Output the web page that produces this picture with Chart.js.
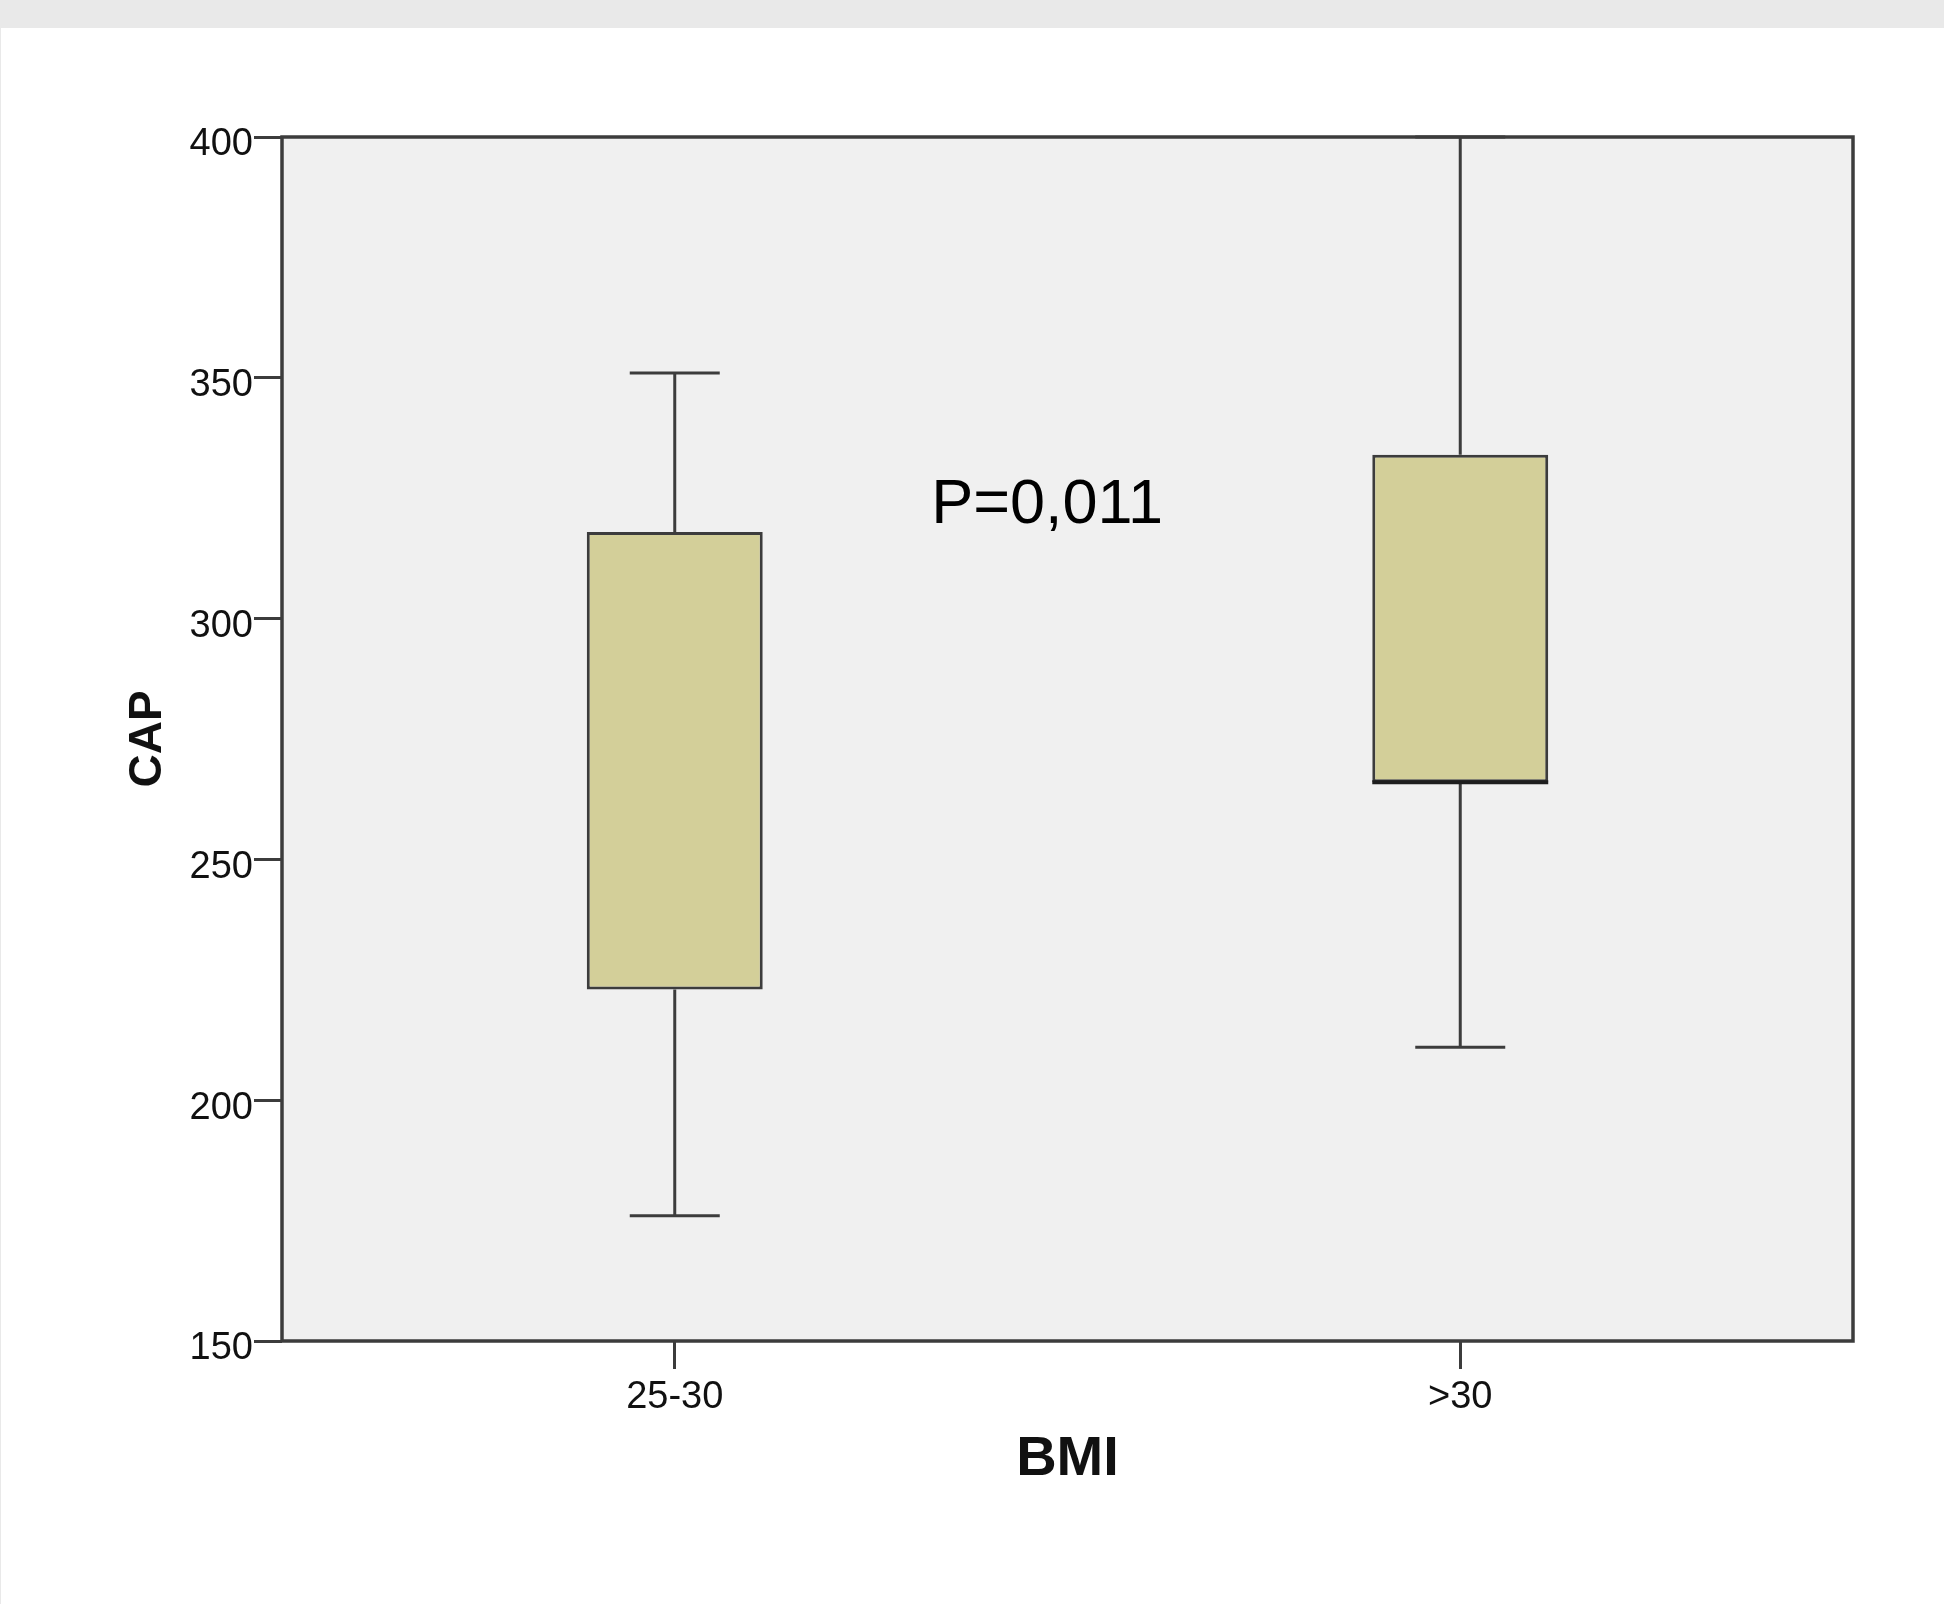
<!DOCTYPE html>
<html>
<head>
<meta charset="utf-8">
<script src="https://cdn.jsdelivr.net/npm/chart.js@4"></script>
<style>
  html, body { margin: 0; padding: 0; background: #e9e9e9; }
  #wrap { position: absolute; left: 1px; top: 28px; width: 1943px; height: 1576px; background: #ffffff; }
</style>
</head>
<body>
<div id="wrap"><canvas id="capGraph"></canvas></div>
<script>
// BMI groups vs CAP (box plot)
var bmiLabels = ["25-30", ">30"];
var whiskerLow = [176, 211];
var quartile1 = [223, 266];
var quartile3 = [318, 334];
var whiskerHigh = [351, 400];
var medians = [null, 266];
var yTicks = [150, 200, 250, 300, 350, 400];

var boxData = [];
for (var i = 0; i < bmiLabels.length; i++) {
    boxData.push([quartile1[i], quartile3[i]]);
}

var lineColor = "#3c3c3c";

// plot background + frame
var framePlugin = {
    id: 'frame',
    beforeDraw: function(chart) {
        var a = chart.chartArea, ctx = chart.ctx;
        ctx.save();
        ctx.fillStyle = "#f0f0f0";
        ctx.fillRect(a.left, a.top, a.right - a.left, a.bottom - a.top);
        ctx.restore();
    },
    afterDraw: function(chart) {
        var a = chart.chartArea, ctx = chart.ctx;
        ctx.save();
        ctx.strokeStyle = lineColor;
        ctx.lineWidth = 3.5;
        ctx.strokeRect(a.left, a.top, a.right - a.left, a.bottom - a.top);
        ctx.restore();
    }
};

// whiskers, caps and median drawn through the scales
var whiskerPlugin = {
    id: 'whiskers',
    beforeDatasetsDraw: function(chart) {
        var x = chart.scales.x, y = chart.scales.y, ctx = chart.ctx;
        ctx.save();
        ctx.strokeStyle = lineColor;
        ctx.lineWidth = 3;
        for (var i = 0; i < bmiLabels.length; i++) {
            var px = x.getPixelForValue(i);
            var capHalf = 45;
            ctx.beginPath();
            ctx.moveTo(px, y.getPixelForValue(whiskerHigh[i]));
            ctx.lineTo(px, y.getPixelForValue(quartile3[i]));
            ctx.moveTo(px, y.getPixelForValue(quartile1[i]));
            ctx.lineTo(px, y.getPixelForValue(whiskerLow[i]));
            ctx.moveTo(px - capHalf, y.getPixelForValue(whiskerHigh[i]));
            ctx.lineTo(px + capHalf, y.getPixelForValue(whiskerHigh[i]));
            ctx.moveTo(px - capHalf, y.getPixelForValue(whiskerLow[i]));
            ctx.lineTo(px + capHalf, y.getPixelForValue(whiskerLow[i]));
            ctx.stroke();
        }
        ctx.restore();
    },
    afterDatasetsDraw: function(chart) {
        var x = chart.scales.x, y = chart.scales.y, ctx = chart.ctx;
        var meta = chart.getDatasetMeta(0);
        ctx.save();
        ctx.strokeStyle = "#1e1e1e";
        ctx.lineWidth = 4;
        for (var i = 0; i < bmiLabels.length; i++) {
            if (medians[i] === null) continue;
            var bar = meta.data[i];
            var py = y.getPixelForValue(medians[i]);
            ctx.beginPath();
            ctx.moveTo(bar.x - bar.width / 2, py);
            ctx.lineTo(bar.x + bar.width / 2, py);
            ctx.stroke();
        }
        // p-value annotation
        ctx.fillStyle = "#000";
        ctx.font = "63px Arial, 'Liberation Sans', sans-serif";
        ctx.textAlign = "center";
        ctx.textBaseline = "middle";
        ctx.fillText("P=0,011", x.getPixelForValue(0.474), y.getPixelForValue(323.4));
        ctx.restore();
    }
};

var capConfig = {
    type: 'bar',
    data: {
        labels: bmiLabels,
        datasets: [{
            data: boxData,
            backgroundColor: "#d3cf99",
            borderColor: lineColor,
            borderWidth: 3,
            borderSkipped: false,
            barPercentage: 0.224,
            categoryPercentage: 1.0
        }]
    },
    options: {
        responsive: true,
        maintainAspectRatio: false,
        animation: false,
        layout: {
            padding: { top: 109, right: 91, bottom: 0, left: 0 }
        },
        plugins: {
            legend: { display: false },
            tooltip: { enabled: false }
        },
        scales: {
            x: {
                afterFit: function(scale) { scale.height = 263; },
                grid: {
                    offset: false,
                    drawOnChartArea: false,
                    tickLength: 28,
                    color: lineColor,
                    lineWidth: 3
                },
                border: { display: false },
                ticks: {
                    color: "#111",
                    padding: 6,
                    font: { family: "Arial, 'Liberation Sans', sans-serif", size: 38 }
                },
                title: {
                    display: true,
                    text: 'BMI',
                    color: "#111",
                    padding: { top: 0, bottom: 111 },
                    font: { family: "Arial, 'Liberation Sans', sans-serif", size: 56, weight: 'bold' }
                }
            },
            y: {
                min: 150,
                max: 400,
                afterFit: function(scale) { scale.width = 281; },
                afterBuildTicks: function(scale) {
                    scale.ticks = yTicks.map(function(v) { return { value: v }; });
                },
                grid: {
                    drawOnChartArea: false,
                    tickLength: 28,
                    color: lineColor,
                    lineWidth: 3
                },
                border: { display: false },
                ticks: {
                    color: "#111",
                    padding: 1,
                    labelOffset: 8,
                    font: { family: "Arial, 'Liberation Sans', sans-serif", size: 38 }
                },
                title: {
                    display: true,
                    text: 'CAP',
                    color: "#111",
                    padding: { top: 120, bottom: 0 },
                    font: { family: "Arial, 'Liberation Sans', sans-serif", size: 46, weight: 'bold' }
                }
            }
        }
    },
    plugins: [framePlugin, whiskerPlugin]
};

var capCtx = document.getElementById("capGraph");
var capChart = new Chart(capCtx, capConfig);
</script>
</body>
</html>
